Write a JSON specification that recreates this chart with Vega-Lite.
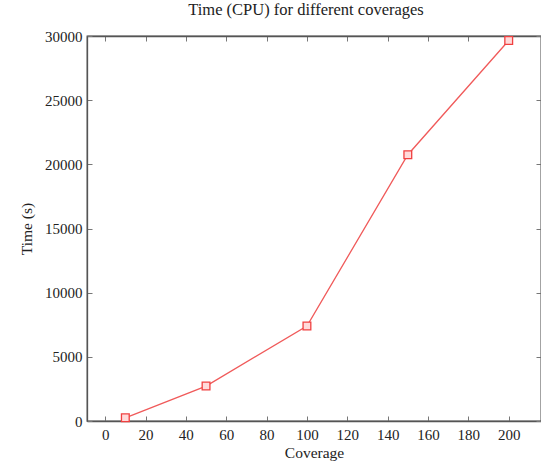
{
  "$schema": "https://vega.github.io/schema/vega-lite/v6.json",
  "autosize": {"type": "none"},
  "width": 454,
  "height": 385,
  "padding": {"left": 87, "top": 36, "right": 0, "bottom": 42},
  "background": "white",
  "title": {"text": "Time (CPU) for different coverages", "font": "Liberation Serif", "fontSize": 16.5, "fontWeight": "normal", "color": "#222", "offset": 11, "dx": -8},
  "config": {
    "view": {"stroke": "#555", "strokeWidth": 1.3},
    "axis": {"grid": false, "domainColor": "#555", "domainWidth": 1.3, "tickColor": "#777", "tickWidth": 1, "labelFont": "Liberation Serif", "labelFontSize": 15, "labelColor": "#222", "titleFont": "Liberation Serif", "titleFontSize": 15.5, "titleFontWeight": "normal", "titleColor": "#222"}
  },
  "data": {"values": [
    {"coverage": 10, "time": 250},
    {"coverage": 50, "time": 2720},
    {"coverage": 100, "time": 7400},
    {"coverage": 150, "time": 20750},
    {"coverage": 200, "time": 29650}
  ]},
  "layer": [
    {
      "mark": {"type": "line", "color": "#f05a5a", "strokeWidth": 1.3},
      "encoding": {
        "x": {"field": "coverage", "type": "quantitative", "scale": {"domain": [-9, 216], "nice": false, "zero": false},
          "axis": {"orient": "bottom", "values": [0,20,40,60,80,100,120,140,160,180,200], "tickSize": -5, "labelPadding": 11, "title": "Coverage", "titlePadding": 3}},
        "y": {"field": "time", "type": "quantitative", "scale": {"domain": [0, 30000], "nice": false},
          "axis": {"orient": "left", "format": "d", "values": [0,5000,10000,15000,20000,25000,30000], "tickSize": -5, "labelPadding": 10, "title": "Time (s)", "titlePadding": 10}}
      }
    },
    {
      "mark": {"type": "point", "shape": "square", "size": 60, "filled": false, "stroke": "#f04040", "fill": "#ffdada", "fillOpacity": 1, "strokeWidth": 1.3},
      "encoding": {
        "x": {"field": "coverage", "type": "quantitative", "scale": {"domain": [-9, 216], "nice": false, "zero": false},
          "axis": {"orient": "top", "values": [0,20,40,60,80,100,120,140,160,180,200], "tickSize": -5, "labels": false, "title": null}},
        "y": {"field": "time", "type": "quantitative", "scale": {"domain": [0, 30000], "nice": false},
          "axis": {"orient": "right", "values": [0,5000,10000,15000,20000,25000,30000], "tickSize": -5, "labels": false, "title": null}}
      }
    }
  ],
  "resolve": {"axis": {"x": "independent", "y": "independent"}}
}
